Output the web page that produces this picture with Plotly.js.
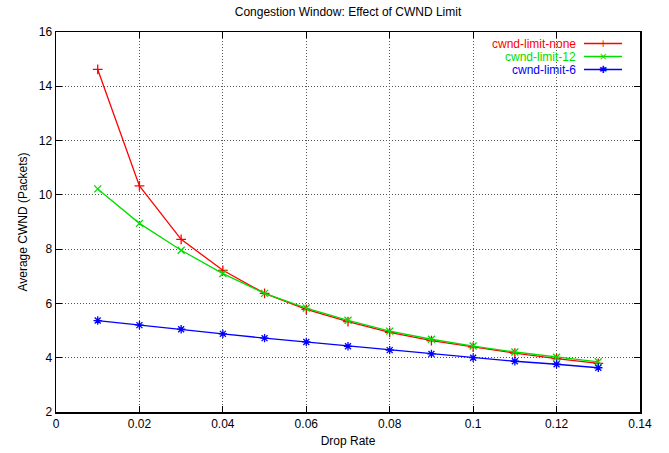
<!DOCTYPE html>
<html>
<head>
<meta charset="utf-8">
<script src="https://cdn.plot.ly/plotly-3.0.1.min.js"></script>
<style>html,body{margin:0;padding:0;background:#fff;}#chart{width:669px;height:453px;}</style>
</head>
<body>
<div id="chart"></div>
<script>
const dropRate = [0.01, 0.02, 0.03, 0.04, 0.05, 0.06, 0.07, 0.08, 0.09, 0.10, 0.11, 0.12, 0.13];
const cwndNone = [14.62, 10.33, 8.36, 7.22, 6.37, 5.78, 5.33, 4.93, 4.63, 4.39, 4.17, 3.97, 3.79];
const cwnd12   = [10.22, 8.95, 7.96, 7.10, 6.37, 5.83, 5.38, 4.98, 4.68, 4.43, 4.21, 4.02, 3.85];
const cwnd6    = [5.37, 5.20, 5.05, 4.88, 4.72, 4.58, 4.42, 4.28, 4.14, 4.00, 3.87, 3.76, 3.63];
const seriesNames = ['cwnd-limit-none', 'cwnd-limit-12', 'cwnd-limit-6'];
const xTicks = [0, 0.02, 0.04, 0.06, 0.08, 0.1, 0.12, 0.14];
const xTickText = ['0', '0.02', '0.04', '0.06', '0.08', '0.1', '0.12', '0.14'];
const yTicks = [2, 4, 6, 8, 10, 12, 14, 16];

const colors = ['#ff0000', '#00dd00', '#0000ff'];
const symbols = ['cross-thin-open', 'x-thin-open', 'asterisk-open'];
const legendGlyphs = ['+', '×', '✱'];
const ys = [cwndNone, cwnd12, cwnd6];

const font = 'Liberation Sans, Arial, sans-serif';
const traces = ys.map((y, i) => ({
  x: dropRate, y: y, type: 'scatter', mode: 'lines+markers', name: seriesNames[i],
  line: {color: colors[i], width: 1.3},
  marker: {symbol: symbols[i], size: 7, color: colors[i], line: {color: colors[i], width: 1.3}},
  showlegend: false
}));

const annotations = [];
const shapes = [];
seriesNames.forEach((n, i) => {
  const yPix = 43.5 + i * 13;
  const yPaper = 1 - (yPix - 32) / 380;
  annotations.push({xref: 'paper', yref: 'paper', x: (578 - 56) / 584, y: yPaper, xanchor: 'right', yanchor: 'middle',
    text: n, showarrow: false, font: {family: font, size: 12, color: colors[i]}});
  shapes.push({type: 'line', xref: 'paper', yref: 'paper', x0: (584 - 56) / 584, x1: (622 - 56) / 584, y0: yPaper, y1: yPaper,
    line: {color: colors[i], width: 1.3}});
});
seriesNames.forEach((n, i) => {
  const yPix = 43.5 + i * 13;
  annotations.push({xref: 'paper', yref: 'paper', x: (603 - 56) / 584, y: 1 - (yPix - 32) / 380, xanchor: 'center', yanchor: 'middle',
    text: legendGlyphs[i], showarrow: false, font: {family: 'DejaVu Sans', size: 10, color: colors[i]}});
});

const axisCommon = {ticks: 'inside', ticklen: 6, tickcolor: '#000', showline: true, linecolor: '#000', linewidth: 1.5,
  mirror: 'ticks', showgrid: true, gridcolor: '#555', griddash: '1px,2px', gridwidth: 1, zeroline: false,
  tickfont: {family: font, size: 12, color: '#000'}};

const layout = {
  width: 669, height: 453,
  margin: {l: 56, r: 29, t: 32, b: 41},
  paper_bgcolor: '#fff', plot_bgcolor: '#fff',
  font: {family: font, size: 12, color: '#000'},
  title: {text: 'Congestion Window: Effect of CWND Limit', font: {family: font, size: 12, color: '#000'}, x: 0.5, xref: 'paper', y: 1 - 12 / 453, yanchor: 'middle'},
  xaxis: Object.assign({}, axisCommon, {range: [0, 0.14], tickvals: xTicks, ticktext: xTickText,
    title: {text: 'Drop Rate', font: {family: font, size: 12, color: '#000'}, standoff: 6}}),
  yaxis: Object.assign({}, axisCommon, {range: [2, 16], tickvals: yTicks,
    title: {text: 'Average CWND (Packets)', font: {family: font, size: 12, color: '#000'}, standoff: 8}}),
  annotations: annotations, shapes: shapes
};

Plotly.newPlot('chart', traces, layout, {displayModeBar: false, staticPlot: true});
</script>
</body>
</html>
